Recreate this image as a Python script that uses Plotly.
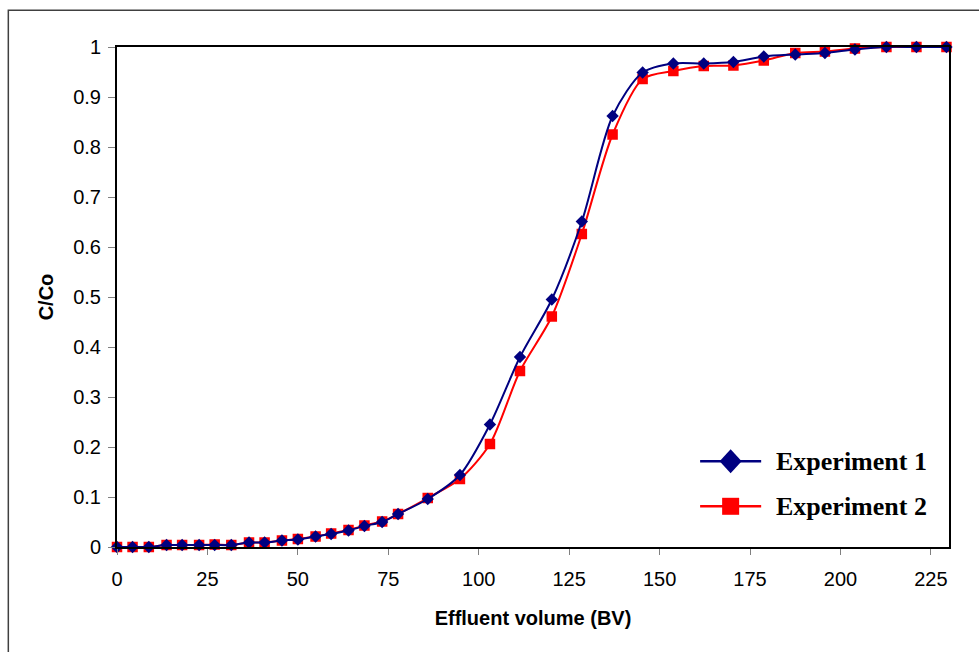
import plotly.graph_objects as go

# Effluent volume (BV)
bv = [0, 4.3, 8.8, 13.7, 18.0, 22.7, 27.0, 31.6, 36.5, 40.8, 45.6, 50.0, 54.9, 59.2, 64.0, 68.4,
      73.3, 77.7, 85.9, 94.8, 103.1, 111.4, 120.2, 128.5, 137.0, 145.3, 153.8, 162.2, 170.4,
      178.8, 187.5, 195.7, 204.0, 212.7, 221.0, 229.3]

exp1 = [0, 0, 0, 0.004, 0.004, 0.004, 0.004, 0.004, 0.009, 0.009, 0.013, 0.015, 0.021, 0.026,
        0.033, 0.042, 0.050, 0.066, 0.096, 0.144, 0.245, 0.380, 0.495, 0.651, 0.862, 0.949,
        0.967, 0.967, 0.970, 0.981, 0.985, 0.988, 0.995, 1.0, 1.0, 1.0]

exp2 = [0, 0, 0, 0.004, 0.004, 0.004, 0.005, 0.004, 0.009, 0.009, 0.013, 0.016, 0.021, 0.027,
        0.034, 0.043, 0.051, 0.066, 0.098, 0.136, 0.206, 0.352, 0.461, 0.626, 0.825, 0.936,
        0.952, 0.962, 0.963, 0.973, 0.988, 0.991, 0.997, 1.0, 1.0, 1.0]

series_names = ["Experiment 1", "Experiment 2"]
series_colors = ["#000080", "#FF0000"]

x_ticks = [0, 25, 50, 75, 100, 125, 150, 175, 200, 225]
y_ticks = [0, 0.1, 0.2, 0.3, 0.4, 0.5, 0.6, 0.7, 0.8, 0.9, 1]
y_tick_text = ["0", "0.1", "0.2", "0.3", "0.4", "0.5", "0.6", "0.7", "0.8", "0.9", "1"]

W, H = 979, 652
L, R, T, B = 117.3, 30.3, 46.7, 105.3
pw = W - L - R
ph = H - T - B


def px(xp):
    return (xp - L) / pw


def py(yp):
    return (H - B - yp) / ph


fig = go.Figure()
fig.add_trace(go.Scatter(
    x=bv, y=exp2, name=series_names[1], mode="lines+markers",
    line=dict(color=series_colors[1], width=2, shape="spline", smoothing=0.8),
    marker=dict(symbol="square", size=10.5, color=series_colors[1]),
    cliponaxis=False, showlegend=False))
fig.add_trace(go.Scatter(
    x=bv, y=exp1, name=series_names[0], mode="lines+markers",
    line=dict(color=series_colors[0], width=2, shape="spline", smoothing=0.8),
    marker=dict(symbol="diamond", size=9.5, color=series_colors[0]),
    cliponaxis=False, showlegend=False))

# outer chart border
fig.add_shape(type="rect", xref="paper", yref="paper",
              x0=px(8.7), x1=px(W + 10), y0=py(H + 10), y1=py(10),
              line=dict(color="#404040", width=1.5), layer="below")

# legend (drawn by hand to match sample length and marker size)
leg_y = [461, 506]
for i, (name, col) in enumerate(zip(series_names, series_colors)):
    yc = leg_y[i]
    fig.add_shape(type="line", xref="paper", yref="paper",
                  x0=px(700), x1=px(761), y0=py(yc), y1=py(yc),
                  line=dict(color=col, width=2.5))
    if i == 0:
        path = "M {x0} {y0} L {x1} {y1} L {x2} {y2} L {x3} {y3} Z".format(
            x0=px(730.5 - 11), y0=py(yc),
            x1=px(730.5), y1=py(yc - 12),
            x2=px(730.5 + 11), y2=py(yc),
            x3=px(730.5), y3=py(yc + 12))
        fig.add_shape(type="path", xref="paper", yref="paper", path=path,
                      fillcolor=col, line=dict(color=col, width=0))
    else:
        fig.add_shape(type="rect", xref="paper", yref="paper",
                      x0=px(730.5 - 8.5), x1=px(730.5 + 8.5),
                      y0=py(yc + 8.5), y1=py(yc - 8.5),
                      fillcolor=col, line=dict(color=col, width=0))
    fig.add_annotation(xref="paper", yref="paper", x=px(774), y=py(yc),
                       xanchor="left", yanchor="middle", showarrow=False,
                       text="<b>" + name + "</b>",
                       font=dict(family="Liberation Serif, Times New Roman, serif",
                                 size=26, color="black"))

fig.update_layout(
    width=W, height=H,
    margin=dict(l=L, r=R, t=T, b=B),
    paper_bgcolor="white", plot_bgcolor="white",
    font=dict(family="Liberation Sans, Arial, sans-serif", color="black"),
    showlegend=False,
    xaxis=dict(range=[0, 230], tickvals=x_ticks, ticks="outside", ticklen=6, tickcolor="#808080",
               showline=True, linecolor="black", linewidth=2, mirror=True, showgrid=False,
               zeroline=False, tickfont=dict(size=20), ticklabelstandoff=7,
               title=dict(text="<b>Effluent volume (BV)</b>", font=dict(size=20), standoff=22)),
    yaxis=dict(range=[0, 1], tickvals=y_ticks, ticktext=y_tick_text, ticks="outside", ticklen=7,
               tickcolor="#808080", showline=True, linecolor="black", linewidth=2, mirror=True,
               showgrid=False, zeroline=False, tickfont=dict(size=20), ticklabelstandoff=3,
               title=dict(text="<b>C/Co</b>", font=dict(size=20), standoff=14)),
)

fig.write_html("out.html")
